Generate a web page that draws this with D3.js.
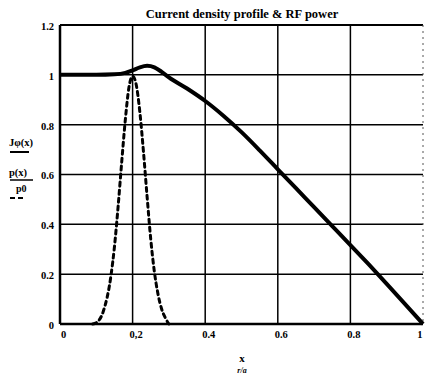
<!DOCTYPE html>
<html>
<head>
<meta charset="utf-8">
<script src="https://cdn.jsdelivr.net/npm/d3@7/dist/d3.min.js"></script>
<style>
  html, body { margin: 0; padding: 0; background: #fff; }
  svg { display: block; }
  text { font-family: "Liberation Serif", "Times New Roman", serif; font-weight: bold; fill: #000; }
</style>
</head>
<body>
<svg id="chart" width="425" height="380"></svg>
<script>
// ---- data ----
const xTickValues = [0, 0.2, 0.4, 0.6, 0.8, 1];
const xTickLabels = ["0", "0,2", "0.4", "0.6", "0.8", "1"];
const yTickValues = [0, 0.2, 0.4, 0.6, 0.8, 1, 1.2];
const yTickLabels = ["0", "0.2", "0.4", "0.6", "0.8", "1", "1.2"];

// current density profile Jφ(x)
const jX = [0, 0.05, 0.1, 0.15, 0.18, 0.2, 0.22, 0.24, 0.26, 0.28, 0.3, 0.35, 0.4, 0.45, 0.5, 0.55, 0.6, 0.65, 0.7, 0.75, 0.8, 0.85, 0.9, 0.95, 1.0];
const jY = [1, 1, 1, 1.002, 1.008, 1.018, 1.03, 1.036, 1.03, 1.012, 0.99, 0.945, 0.895, 0.836, 0.77, 0.697, 0.621, 0.545, 0.469, 0.393, 0.317, 0.24, 0.161, 0.081, 0];

// RF power p(x)/p0
const pX = [0.09, 0.10, 0.12, 0.14, 0.15, 0.16, 0.17, 0.18, 0.19, 0.20, 0.21, 0.22, 0.23, 0.24, 0.25, 0.26, 0.27, 0.28, 0.29, 0.30];
const pY = [0, 0.005, 0.054, 0.19, 0.31, 0.47, 0.65, 0.82, 0.95, 0.995, 0.96, 0.85, 0.69, 0.51, 0.34, 0.21, 0.12, 0.06, 0.025, 0];

// ---- layout ----
const svg = d3.select("#chart");
const x = d3.scaleLinear().domain([0, 1]).range([60, 423]);
const y = d3.scaleLinear().domain([0, 1.2]).range([324, 25]);

// grid
const g = svg.append("g");
g.selectAll("line.v").data(xTickValues.filter(v => v > 0 && v < 1)).enter()
  .append("line").attr("x1", d => x(d)).attr("x2", d => x(d))
  .attr("y1", y(1.2)).attr("y2", y(0)).attr("stroke", "#000").attr("stroke-width", 1.5);
g.selectAll("line.h").data(yTickValues.filter(v => v > 0 && v < 1.2)).enter()
  .append("line").attr("x1", x(0)).attr("x2", x(1))
  .attr("y1", d => y(d)).attr("y2", d => y(d)).attr("stroke", "#000").attr("stroke-width", 1.5);

// frame
g.append("line").attr("x1", x(0)).attr("x2", x(1)).attr("y1", y(1.2)).attr("y2", y(1.2)).attr("stroke", "#000").attr("stroke-width", 2.2);
g.append("line").attr("x1", x(0)).attr("x2", x(1)).attr("y1", y(0)).attr("y2", y(0)).attr("stroke", "#000").attr("stroke-width", 2.5);
g.append("line").attr("x1", x(0)).attr("x2", x(0)).attr("y1", y(1.2)).attr("y2", y(0)).attr("stroke", "#000").attr("stroke-width", 2.5);
g.append("line").attr("x1", x(1)).attr("x2", x(1)).attr("y1", y(1.2)).attr("y2", y(0)).attr("stroke", "#555").attr("stroke-width", 1).attr("stroke-dasharray", "2,4");

// axes (labels only)
const xAxis = d3.axisBottom(x).tickValues(xTickValues).tickSize(0).tickPadding(7)
  .tickFormat((d, i) => xTickLabels[i]);
const xa = svg.append("g").attr("transform", `translate(3,${y(0)})`).call(xAxis);
xa.select(".domain").remove();
xa.selectAll("text").style("font-size", "10.5px").style("font-family", "Liberation Serif").style("font-weight", "bold");
xa.selectAll(".tick").filter(d => d === 1).select("text").attr("text-anchor", "end").attr("x", -4);

const yAxis = d3.axisLeft(y).tickValues(yTickValues).tickSize(0).tickPadding(6)
  .tickFormat((d, i) => yTickLabels[i]);
const ya = svg.append("g").attr("transform", `translate(${x(0)},1)`).call(yAxis);
ya.select(".domain").remove();
ya.selectAll("text").style("font-size", "10.5px").style("font-family", "Liberation Serif").style("font-weight", "bold");

// curves
const jData = jX.map((v, i) => [v, jY[i]]);
const pData = pX.map((v, i) => [v, pY[i]]);

const line = d3.line().x(d => x(d[0])).y(d => y(d[1])).curve(d3.curveMonotoneX);

svg.append("path").datum(pData).attr("d", line)
  .attr("fill", "none").attr("stroke", "#000").attr("stroke-width", 3)
  .attr("stroke-dasharray", "4,4").attr("stroke-linecap", "round");

svg.append("path").datum(jData).attr("d", line)
  .attr("fill", "none").attr("stroke", "#000").attr("stroke-width", 4)
  .attr("stroke-linejoin", "round");

// title
svg.append("text").attr("x", 242).attr("y", 18).attr("text-anchor", "middle")
  .style("font-size", "12.5px").text("Current density profile & RF power");

// x-axis title
svg.append("text").attr("x", 242).attr("y", 362).attr("text-anchor", "middle")
  .style("font-size", "11px").text("x");
svg.append("text").attr("x", 242).attr("y", 373).attr("text-anchor", "middle")
  .style("font-size", "8px").style("font-style", "italic").text("r/a");

// y-axis legend labels
svg.append("text").attr("x", 9).attr("y", 146).style("font-size", "10.5px").text("Jφ(x)");
svg.append("line").attr("x1", 10).attr("x2", 29).attr("y1", 152).attr("y2", 152).attr("stroke", "#000").attr("stroke-width", 2);
svg.append("text").attr("x", 9).attr("y", 176).style("font-size", "10.5px").text("p(x)");
svg.append("line").attr("x1", 10).attr("x2", 33).attr("y1", 180).attr("y2", 180).attr("stroke", "#000").attr("stroke-width", 1.5);
svg.append("text").attr("x", 16).attr("y", 192).style("font-size", "10px").text("p0");
svg.append("line").attr("x1", 10).attr("x2", 26).attr("y1", 198).attr("y2", 198).attr("stroke", "#000").attr("stroke-width", 2).attr("stroke-dasharray", "5,3");
</script>
</body>
</html>
